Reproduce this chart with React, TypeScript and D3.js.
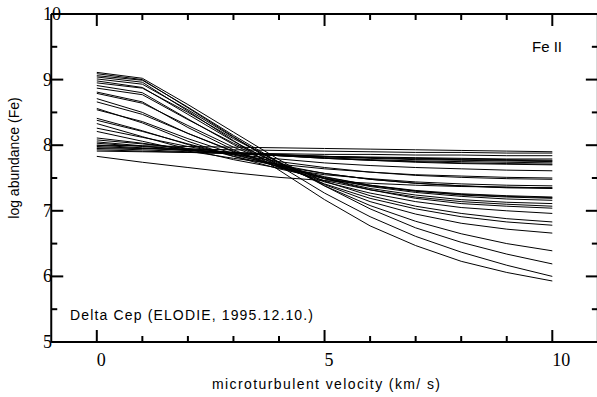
import React from "react";
import * as d3 from "d3";

const velocities = [0, 1, 2, 3, 4, 5, 6, 7, 8, 9, 10];

const fe01 = [9.04, 8.96, 8.52, 8.07, 7.62, 7.17, 6.77, 6.47, 6.23, 6.06, 5.93];
const fe02 = [9.09, 9.0, 8.57, 8.13, 7.69, 7.27, 6.91, 6.61, 6.37, 6.17, 6.0];
const fe03 = [9.11, 9.02, 8.62, 8.2, 7.78, 7.38, 7.03, 6.74, 6.52, 6.34, 6.19];
const fe04 = [9.06, 8.99, 8.58, 8.15, 7.74, 7.38, 7.08, 6.84, 6.65, 6.5, 6.39];
const fe05 = [9.01, 8.93, 8.54, 8.12, 7.73, 7.4, 7.14, 6.95, 6.81, 6.72, 6.66];
const fe06 = [8.98, 8.88, 8.47, 8.06, 7.7, 7.41, 7.19, 7.03, 6.91, 6.83, 6.78];
const fe07 = [8.95, 8.87, 8.5, 8.1, 7.74, 7.45, 7.23, 7.07, 6.96, 6.88, 6.83];
const fe08 = [8.91, 8.8, 8.4, 8.01, 7.68, 7.44, 7.27, 7.14, 7.05, 7.0, 6.96];
const fe09 = [8.87, 8.77, 8.39, 8.03, 7.72, 7.49, 7.32, 7.19, 7.11, 7.07, 7.04];
const fe10 = [8.81, 8.66, 8.27, 7.93, 7.66, 7.46, 7.32, 7.21, 7.14, 7.1, 7.07];
const fe11 = [8.79, 8.64, 8.3, 7.97, 7.7, 7.49, 7.34, 7.24, 7.17, 7.13, 7.11];
const fe12 = [8.71, 8.5, 8.18, 7.9, 7.67, 7.5, 7.37, 7.28, 7.22, 7.18, 7.16];
const fe13 = [8.66, 8.47, 8.18, 7.91, 7.69, 7.52, 7.39, 7.3, 7.24, 7.21, 7.19];
const fe14 = [8.56, 8.34, 8.06, 7.83, 7.64, 7.49, 7.38, 7.3, 7.25, 7.22, 7.2];
const fe15 = [8.54, 8.36, 8.1, 7.87, 7.67, 7.51, 7.39, 7.31, 7.26, 7.23, 7.21];
const fe16 = [8.41, 8.22, 8.01, 7.83, 7.68, 7.57, 7.48, 7.42, 7.38, 7.35, 7.34];
const fe17 = [8.38, 8.21, 8.02, 7.85, 7.7, 7.57, 7.48, 7.42, 7.38, 7.36, 7.35];
const fe18 = [8.33, 8.13, 7.94, 7.78, 7.65, 7.55, 7.49, 7.44, 7.41, 7.39, 7.38];
const fe19 = [8.26, 8.12, 7.98, 7.86, 7.75, 7.66, 7.59, 7.54, 7.51, 7.49, 7.48];
const fe20 = [8.21, 8.06, 7.91, 7.8, 7.71, 7.64, 7.59, 7.55, 7.53, 7.51, 7.5];
const fe21 = [8.11, 8.03, 7.94, 7.86, 7.79, 7.73, 7.69, 7.66, 7.64, 7.62, 7.61];
const fe22 = [8.08, 8.02, 7.95, 7.89, 7.84, 7.8, 7.77, 7.74, 7.72, 7.71, 7.7];
const fe23 = [8.05, 7.99, 7.93, 7.88, 7.84, 7.8, 7.77, 7.75, 7.73, 7.72, 7.71];
const fe24 = [8.03, 7.98, 7.93, 7.88, 7.84, 7.81, 7.78, 7.76, 7.75, 7.74, 7.73];
const fe25 = [8.0, 7.96, 7.92, 7.88, 7.85, 7.82, 7.8, 7.78, 7.77, 7.76, 7.75];
const fe26 = [7.98, 7.95, 7.92, 7.89, 7.86, 7.83, 7.81, 7.79, 7.78, 7.77, 7.76];
const fe27 = [7.95, 7.93, 7.9, 7.87, 7.85, 7.83, 7.81, 7.8, 7.79, 7.78, 7.77];
const fe28 = [7.93, 7.91, 7.89, 7.87, 7.85, 7.83, 7.82, 7.81, 7.8, 7.79, 7.79];
const fe29 = [7.91, 7.9, 7.89, 7.88, 7.87, 7.86, 7.86, 7.85, 7.85, 7.84, 7.84];
const fe30 = [8.0, 7.99, 7.98, 7.97, 7.96, 7.95, 7.94, 7.93, 7.92, 7.91, 7.9];
const fe31 = [7.83, 7.74, 7.66, 7.58, 7.51, 7.46, 7.42, 7.39, 7.37, 7.36, 7.35];
const fe32 = [7.96, 7.95, 7.94, 7.93, 7.92, 7.91, 7.9, 7.89, 7.89, 7.88, 7.88];

const allLines = [
  fe01, fe02, fe03, fe04, fe05, fe06, fe07, fe08, fe09, fe10, fe11,
  fe12, fe13, fe14, fe15, fe16, fe17, fe18, fe19, fe20, fe21, fe22,
  fe23, fe24, fe25, fe26, fe27, fe28, fe29, fe30, fe31, fe32,
];

const xMajorTicks = [0, 5, 10];
const xTickLabels = ["0", "5", "10"];
const xMinorTicks = [1, 2, 3, 4, 6, 7, 8, 9];
const yMajorTicks = [5, 6, 7, 8, 9, 10];
const yTickLabels = ["5", "6", "7", "8", "9", "10"];
const yMinorTicks = [5.5, 6.5, 7.5, 8.5, 9.5];

const xTitle = "microturbulent velocity (km/ s)";
const yTitle = "log abundance (Fe)";
const starLabel = "Delta Cep (ELODIE, 1995.12.10.)";
const ionLabel = "Fe II";

export default function App() {
  const W = 597;
  const H = 397;
  const x = d3.scaleLinear().domain([-1, 11]).range([51.25, 597.85]);
  const y = d3.scaleLinear().domain([5, 10]).range([342, 14]);
  const line = d3
    .line<number>()
    .x((_, i) => x(velocities[i]))
    .y((d) => y(d));

  const left = x(-1);
  const right = x(11);
  const top = y(10);
  const bottom = y(5);
  const serif = "'Liberation Serif', 'Times New Roman', serif";
  const sans = "'Liberation Sans', Arial, sans-serif";
  const axisW = 2;

  return (
    <svg
      width={W}
      height={H}
      style={{ position: "absolute", left: 0, top: 0, background: "#fff" }}
    >
      <g fill="none" stroke="#000" strokeWidth={1}>
        {allLines.map((vals, i) => (
          <path key={i} d={line(vals) || ""} />
        ))}
      </g>

      <g stroke="#000" strokeWidth={axisW} fill="none">
        <line x1={left} x2={right} y1={bottom} y2={bottom} />
        <line x1={left} x2={right} y1={top} y2={top} />
        <line x1={left} x2={left} y1={top} y2={bottom} />
        <line x1={right} x2={right} y1={top} y2={bottom} />
        {xMajorTicks.map((t) => (
          <g key={"xM" + t}>
            <line x1={x(t)} x2={x(t)} y1={bottom} y2={bottom - 12} />
            <line x1={x(t)} x2={x(t)} y1={top} y2={top + 12} />
          </g>
        ))}
        {xMinorTicks.map((t) => (
          <g key={"xm" + t}>
            <line x1={x(t)} x2={x(t)} y1={bottom} y2={bottom - 6} />
            <line x1={x(t)} x2={x(t)} y1={top} y2={top + 6} />
          </g>
        ))}
        {yMajorTicks.map((t) => (
          <g key={"yM" + t}>
            <line x1={left} x2={left + 12} y1={y(t)} y2={y(t)} />
            <line x1={right} x2={right - 12} y1={y(t)} y2={y(t)} />
          </g>
        ))}
        {yMinorTicks.map((t) => (
          <g key={"ym" + t}>
            <line x1={left} x2={left + 6} y1={y(t)} y2={y(t)} />
            <line x1={right} x2={right - 6} y1={y(t)} y2={y(t)} />
          </g>
        ))}
      </g>

      <g fontFamily={serif} fontSize={18} fill="#000">
        {xMajorTicks.map((t, i) => (
          <text key={"xl" + t} x={x(t)} y={366} textAnchor="start">
            {xTickLabels[i]}
          </text>
        ))}
        {yMajorTicks.map((t, i) => (
          <text key={"yl" + t} x={43} y={y(t) + 6} textAnchor="start">
            {yTickLabels[i]}
          </text>
        ))}
      </g>

      <g fontFamily={sans} fill="#000">
        <text x={212} y={389} fontSize={14} textLength={228} lengthAdjust="spacing">
          {xTitle}
        </text>
        <text
          transform="translate(19,158) rotate(-90)"
          textAnchor="middle"
          fontSize={14}
        >
          {yTitle}
        </text>
        <text x={70} y={319.5} fontSize={14} textLength={243} lengthAdjust="spacing">
          {starLabel}
        </text>
        <text x={532} y={52} fontSize={15}>
          {ionLabel}
        </text>
      </g>
    </svg>
  );
}
